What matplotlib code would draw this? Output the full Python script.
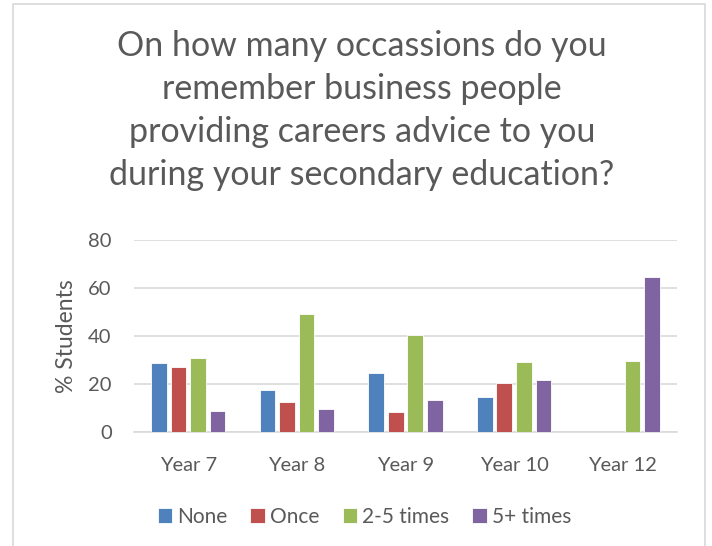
import matplotlib

matplotlib.use("Agg")

import numpy as np
import matplotlib.pyplot as plt
from matplotlib.patches import Rectangle

# data
years = ["Year 7", "Year 8", "Year 9", "Year 10", "Year 12"]
series_names = ["None", "Once", "2-5 times", "5+ times"]
none_pct = [28.8, 17.5, 24.3, 14.3, 0]
once_pct = [26.9, 12.5, 8.2, 20.3, 0]
two_five_pct = [30.6, 49.3, 40.5, 29.2, 29.6]
five_plus_pct = [8.6, 9.5, 13.1, 21.7, 64.6]

colors = ["#4F81BD", "#C0504D", "#9BBB59", "#8064A2"]
text_color = "#595959"

plt.rcParams["font.family"] = ["Lato", "DejaVu Sans"]

fig = plt.figure(figsize=(7.12, 5.46), dpi=100)
ax = fig.add_axes([0.188, 0.2093, 0.763, 0.3511])

# chart frame
fig.patches.append(
    Rectangle((13 / 712, -0.02), 692 / 712, 0.02 + 542 / 546,
              transform=fig.transFigure, fill=False,
              edgecolor="#D9D9D9", linewidth=1.2)
)

x = np.arange(len(years))
pitch = 0.18
width = 0.145
all_series = [none_pct, once_pct, two_five_pct, five_plus_pct]
for i, (vals, name) in enumerate(zip(all_series, series_names)):
    offset = (i - 1.5) * pitch
    ax.bar(x + offset, vals, width, color=colors[i], label=name,
           edgecolor="white", linewidth=0.6, zorder=3)

ax.set_xlim(-0.5, len(years) - 0.5)
ax.set_ylim(0, 80)
ax.set_yticks([0, 20, 40, 60, 80])
ax.set_xticks(x)
ax.set_xticklabels(years)
ax.grid(axis="y", color="#D9D9D9", linewidth=1.2, zorder=0)
ax.set_axisbelow(True)
for side in ["top", "right", "left"]:
    ax.spines[side].set_visible(False)
ax.spines["bottom"].set_color("#D9D9D9")
ax.spines["bottom"].set_linewidth(1.2)
ax.tick_params(axis="both", length=0, labelsize=14.5, colors=text_color)
ax.tick_params(axis="x", pad=18)
ax.tick_params(axis="y", pad=16)
ax.set_ylabel("% Students", fontsize=16.5, color=text_color, labelpad=8)

fig.text(
    0.508, 0.945,
    "On how many occassions do you\nremember business people\n"
    "providing careers advice to you\nduring your secondary education?",
    ha="center", va="top", fontsize=24.5, color=text_color, linespacing=1.42,
)

leg = fig.legend(
    loc="center", bbox_to_anchor=(0.512, 0.053), ncol=4, frameon=False,
    fontsize=15, handlelength=0.7, handleheight=0.7, handletextpad=0.25,
    columnspacing=1.1,
)
for t in leg.get_texts():
    t.set_color(text_color)

fig.savefig("out.png", dpi=100)
